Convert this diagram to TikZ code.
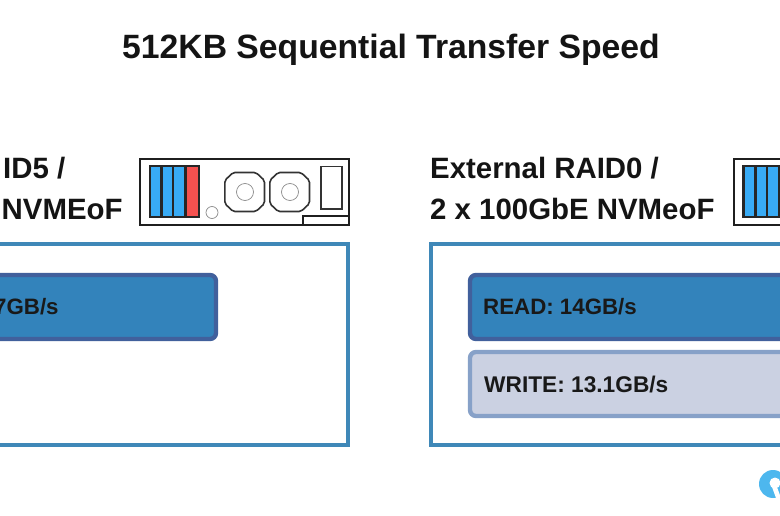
\documentclass[tikz,border=0pt]{standalone}
\usepackage{fontspec}
\setmainfont{Liberation Sans}[BoldFont=* Bold]
\definecolor{frameblue}{HTML}{3F88B8}
\definecolor{readfill}{HTML}{3383BB}
\definecolor{readedge}{HTML}{41609C}
\definecolor{writefill}{HTML}{CBD1E2}
\definecolor{writeedge}{HTML}{87A1C8}
\definecolor{drive}{HTML}{38ABF5}
\definecolor{driveRed}{HTML}{F4514F}
\definecolor{logoblue}{HTML}{4DB7EE}
\tikzset{
 panel/.style={draw=frameblue,line width=3.6pt,fill=white},
 readbar/.style={draw=readedge,fill=readfill,line width=4.4pt,rounded corners=6pt},
 writebar/.style={draw=writeedge,fill=writefill,line width=4.4pt,rounded corners=6pt},
 heading/.style={font=\bfseries\fontsize{29.4}{32}\selectfont,text=black!92,anchor=base west,inner sep=0pt},
 barlabel/.style={font=\bfseries\fontsize{22.3}{24}\selectfont,text=black!90,anchor=base west,inner sep=0pt},
 chassis/.style={draw=black!88,line width=1.9pt,fill=white},
 part/.style={draw=black!80,line width=1.6pt,fill=white,rounded corners=2pt},
 thin part/.style={draw=black!45,line width=.7pt,fill=white},
 slot/.style={draw=black!85,line width=2.8pt},
}
\begin{document}
\begin{tikzpicture}[x=1pt,y=-1pt]
\useasboundingbox (0,0) rectangle (780,516);
\clip (0,0) rectangle (780,516);
\fill[white] (0,0) rectangle (780,516);
\node[font=\bfseries\fontsize{33.7}{36}\selectfont,text=black!92,anchor=base,inner sep=0pt] (title) at (391,59) {512KB Sequential Transfer Speed};
% left headings
\node[heading] (lh1) at (3,179) {ID5 /};
\node[heading] (lh2) at (1.5,219) {NVMEoF};
% left chassis
\draw[chassis] (140,159) rectangle (349,225);
\draw[slot,fill=drive] (150,166) rectangle (161.5,217);
\draw[slot,fill=drive] (161.5,166) rectangle (173,217);
\draw[slot,fill=drive] (173,166) rectangle (185.3,217);
\draw[slot,fill=driveRed] (185.3,166) rectangle (199,217);
\draw[thin part] (212,212.5) circle (6);
\draw[part] (233,172.5) -- (256,172.5) -- (264.5,180.5) -- (264.5,203.5) -- (256,211.5) -- (233,211.5) -- (224.8,203.5) -- (224.8,180.5) -- cycle;
\draw[thin part] (245,192) circle (8.5);
\draw[part] (278,172.5) -- (301,172.5) -- (309.5,180.5) -- (309.5,203.5) -- (301,211.5) -- (278,211.5) -- (269.8,203.5) -- (269.8,180.5) -- cycle;
\draw[thin part] (290,192) circle (8.5);
\draw[part,rounded corners=0pt] (320.8,166.5) rectangle (341.8,209);
\draw[chassis] (303,216) rectangle (349,225);
% left panel
\draw[panel] (-10,244) rectangle (348,445);
\draw[readbar] (-30,275) rectangle (216,339);
\node[barlabel] (lread) at (-6,314) {7GB/s};
% right headings
\node[heading] (rh1) at (430,179) {External RAID0 /};
\node[heading] (rh2) at (430,219) {2 x 100GbE NVMeoF};
% right chassis
\draw[chassis] (734,159) rectangle (800,225);
\draw[slot,fill=drive] (743.7,166) rectangle (755.3,217);
\draw[slot,fill=drive] (755.3,166) rectangle (767,217);
\draw[slot,fill=drive] (767,166) rectangle (779.3,217);
\draw[slot,fill=drive] (779.3,166) rectangle (800,217);
% right panel
\draw[panel] (431,244) rectangle (800,445);
\draw[readbar] (470,275) rectangle (800,339);
\node[barlabel] (rread) at (483,314) {READ: 14GB/s};
\draw[writebar] (470,352) rectangle (800,416);
\node[barlabel] (rwrite) at (484,392) {\fontsize{22.7}{24}\selectfont WRITE: 13.1GB/s};
% logo
\fill[logoblue] (773,484) circle (14);
\fill[white] (775,483) circle (5.5);
\fill[white] (772,487) -- (777,487) -- (781,498) -- (776,498) -- cycle;
\end{tikzpicture}
\end{document}
